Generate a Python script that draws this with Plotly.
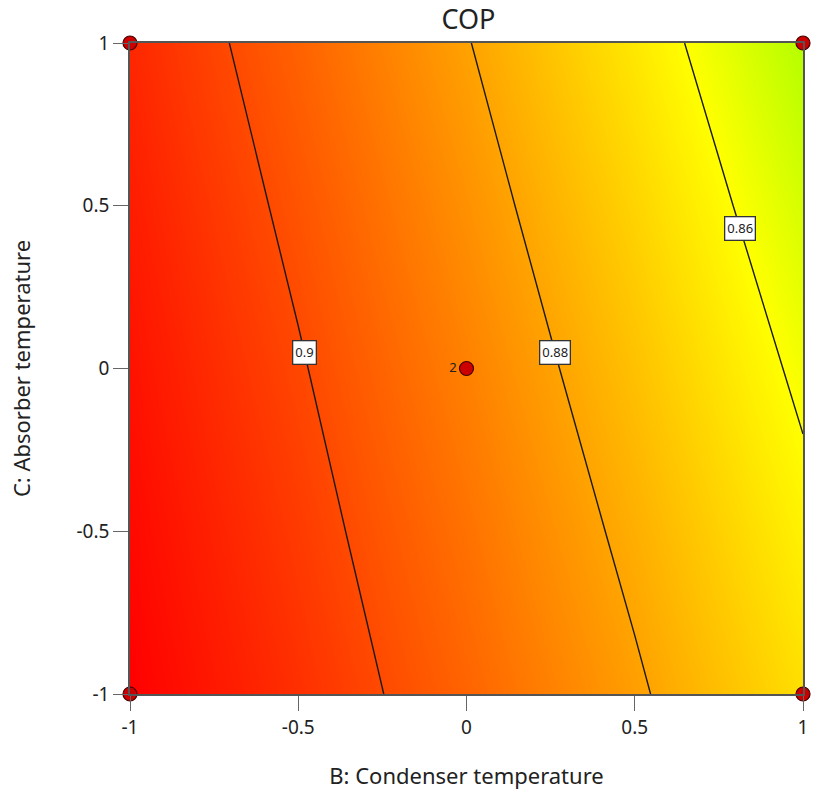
import numpy as np
import plotly.graph_objects as go

# Coded factor levels
b_levels = [-1, -0.5, 0, 0.5, 1]   # B: Condenser temperature
c_levels = [-1, -0.5, 0, 0.5, 1]   # C: Absorber temperature

# COP response, rows follow c_levels, columns follow b_levels
cop_c_m1 = [0.91623, 0.90591, 0.89428, 0.88134, 0.86709]
cop_c_m05 = [0.91441, 0.90345, 0.89118, 0.87762, 0.86274]
cop_c_0 = [0.91238, 0.90076, 0.88785, 0.87365, 0.85815]
cop_c_05 = [0.91014, 0.89785, 0.88428, 0.86943, 0.85331]
cop_c_1 = [0.90767, 0.89468, 0.88045, 0.86496, 0.84822]

# Contour levels with a labelled position (C value) on each line
contour_levels = [0.90, 0.88, 0.86]
label_texts = ["0.9", "0.88", "0.86"]
label_c = [0.05, 0.05, 0.43]

# Design points
design_b = [-1, 1, -1, 1, 0]
design_c = [-1, -1, 1, 1, 0]
design_text = ["", "", "", "", "2"]

tick_vals = [-1, -0.5, 0, 0.5, 1]
tick_text = ["-1", "-0.5", "0", "0.5", "1"]

z = np.array([cop_c_m1, cop_c_m05, cop_c_0, cop_c_05, cop_c_1])
FONT = "Noto Sans"
INK = "#222222"

fig = go.Figure()

fig.add_trace(go.Contour(
    x=b_levels, y=c_levels, z=z,
    colorscale=[[0, "#00ff00"], [0.415, "#ffff00"], [1, "#ff0000"]],
    zmin=0.82, zmax=float(z.max()), zauto=False,
    contours=dict(start=0.86, end=0.90, size=0.02, showlines=True, coloring="heatmap"),
    line=dict(color="#1a1a1a", width=1.4, smoothing=0),
    showscale=False, hoverinfo="skip",
))

fig.add_trace(go.Scatter(
    x=design_b, y=design_c, mode="markers+text",
    text=design_text, textposition="middle left",
    textfont=dict(family=FONT, size=13, color=INK),
    marker=dict(size=14, color="#cc0000", line=dict(color="#440000", width=1.2)),
    cliponaxis=False, showlegend=False, hoverinfo="skip",
))

# Place each label on its contour line by interpolating the grid
for lvl, txt, cy in zip(contour_levels, label_texts, label_c):
    row = np.array([np.interp(cy, c_levels, z[:, j]) for j in range(len(b_levels))])
    bx = float(np.interp(lvl, row[::-1], np.array(b_levels)[::-1]))
    fig.add_annotation(
        x=bx, y=cy, text=txt, showarrow=False,
        font=dict(family=FONT, size=13, color=INK),
        bgcolor="white", bordercolor="#333333", borderwidth=1.3, borderpad=2,
    )

axis_common = dict(
    range=[-1, 1], tickvals=tick_vals, ticktext=tick_text,
    ticks="outside", ticklen=15, tickcolor="#666666", tickwidth=1.3,
    showline=True, linecolor="#555555", linewidth=1.5, mirror=True,
    showgrid=False, zeroline=False,
    tickfont=dict(family=FONT, size=19, color=INK),
)

fig.update_layout(
    width=814, height=796,
    margin=dict(l=130, r=6, t=43, b=102),
    paper_bgcolor="white", plot_bgcolor="white",
    title=dict(text="COP", x=0.5755, xanchor="center", y=0.975, yanchor="middle",
               font=dict(family=FONT, size=27, color=INK)),
    xaxis=dict(**axis_common, title=dict(text="B: Condenser temperature",
               font=dict(family=FONT, size=22, color=INK), standoff=30)),
    yaxis=dict(**axis_common, title=dict(text="C: Absorber temperature",
               font=dict(family=FONT, size=22, color=INK), standoff=40)),
    showlegend=False,
)

fig.write_html("out.html")
